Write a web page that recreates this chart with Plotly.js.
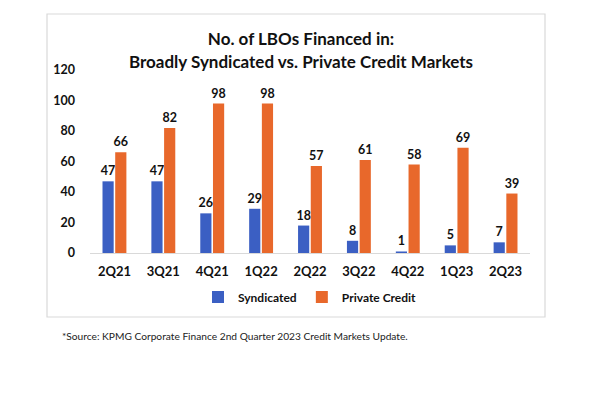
<!DOCTYPE html>
<html><head><meta charset="utf-8">
<script src="https://cdn.plot.ly/plotly-3.0.1.min.js"></script>
<style>html,body{margin:0;padding:0;background:#fff}#chart{width:602px;height:395px}</style>
</head><body><div id="chart"></div>
<script>
const quarters = ["2Q21","3Q21","4Q21","1Q22","2Q22","3Q22","4Q22","1Q23","2Q23"];
const syndicated = [47,47,26,29,18,8,1,5,7];
const privateCredit = [66,82,98,98,57,61,58,69,39];
const yTicks = [0,20,40,60,80,100,120];

const FONT = "Lato, 'Open Sans', sans-serif";
const lblFont = {family: FONT, size: 12.5, color: "#111", weight: "bold"};

const traces = [
  {type:"bar", name:"Syndicated", x:quarters, y:syndicated, marker:{color:"#3B5FC3"},
   text:syndicated.map(String), textposition:"outside", textfont:lblFont, constraintext:"none", cliponaxis:false},
  {type:"bar", name:"Private Credit", x:quarters, y:privateCredit, marker:{color:"#E8682B"},
   text:privateCredit.map(String), textposition:"outside", textfont:lblFont, constraintext:"none", cliponaxis:false}
];

const layout = {
  width:602, height:395,
  margin:{l:90, r:72, t:70, b:142},
  paper_bgcolor:"#fff", plot_bgcolor:"#fff",
  font:{family:FONT, color:"#111"},
  barmode:"group", bargap:0.48, bargroupgap:0.12,
  title:{text:"<b>No. of LBOs Financed in:<br>Broadly Syndicated vs. Private Credit Markets</b>",
         font:{family:FONT, size:17, color:"#111"}, x:0.5, xanchor:"center", y:0.885, yanchor:"top"},
  xaxis:{showline:true, linecolor:"#d9d9d9", linewidth:1, ticks:"", showgrid:false,
         tickfont:{family:FONT, size:13, color:"#111", weight:"bold"}, ticklabelstandoff:6},
  yaxis:{range:[0,120], tickvals:yTicks, showgrid:false, zeroline:false, showline:false, ticks:"",
         tickfont:{family:FONT, size:12.5, color:"#111", weight:"bold"}, ticklabelstandoff:14},
  showlegend:true,
  legend:{orientation:"h", x:0.5, xanchor:"center", y:-0.24, yanchor:"middle",
          font:{family:FONT, size:12, color:"#111", weight:"bold"}, itemwidth:30, traceorder:"normal"},
  shapes:[{type:"rect", xref:"paper", yref:"paper",
           x0:(47-90)/440, x1:(545-90)/440, y0:(253-317)/183, y1:(253-14)/183,
           line:{color:"#d9d9d9", width:1.2}, fillcolor:"rgba(0,0,0,0)", layer:"below"}],
  annotations:[{xref:"paper", yref:"paper", x:(60-90)/440, y:(253-336)/183, xanchor:"left", yanchor:"middle",
                showarrow:false, text:"*Source: KPMG Corporate Finance 2nd Quarter 2023 Credit Markets Update.",
                font:{family:FONT, size:10.2, color:"#222"}}]
};

Plotly.newPlot("chart", traces, layout, {displayModeBar:false, staticPlot:true});
</script></body></html>
